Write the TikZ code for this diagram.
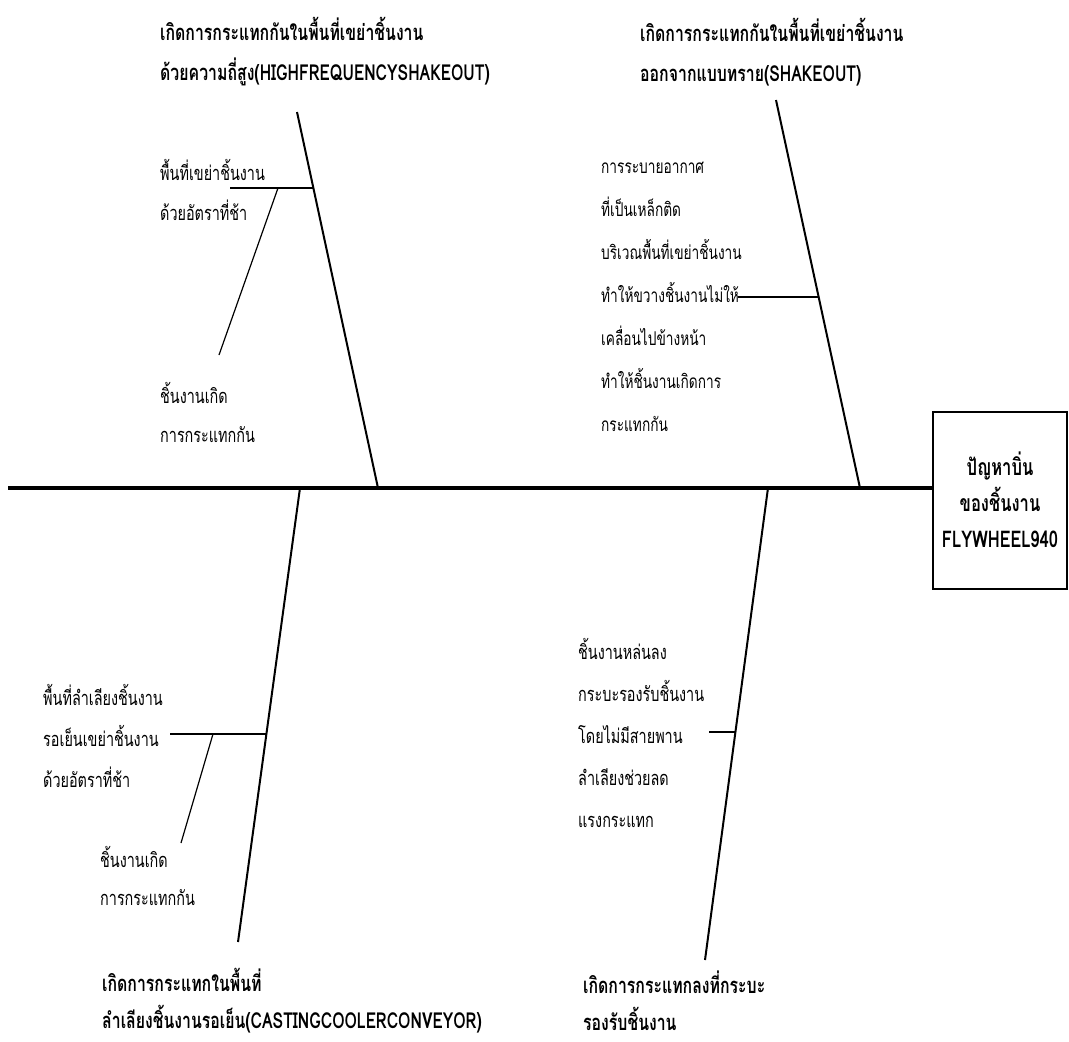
\documentclass[tikz,border=0pt]{standalone}
\usepackage{fontspec}
\newfontfamily\thai[Script=Thai,FakeStretch=0.72]{Loma}
\begin{document}
\begin{tikzpicture}[x=1pt,y=-1pt,
  spine/.style={line width=4pt},
  bone/.style={line width=2pt},
  twig/.style={line width=1.2pt},
  lbl/.style={anchor=west, align=left, inner sep=0pt,
    font=\thai\fontsize{20}{42}\selectfont},
  head/.style={anchor=west, align=left, inner sep=0pt,
    font=\thai\bfseries\fontsize{22}{40}\selectfont}]
\useasboundingbox (0,0) rectangle (1069,1042);

% effect box and main spine
\node[draw, line width=2pt, minimum width=134pt, minimum height=177pt,
  align=center, inner sep=0pt,
  font=\thai\bfseries\fontsize{23}{36}\selectfont] (effect) at (1000,500)
  {ปัญหาบิ่น\\ของชิ้นงาน\\FLYWHEEL940};
\coordinate (tail) at (8,488);
\draw[spine] (tail) -- (tail -| effect.west);

% bone end points
\coordinate (tlA) at (297,112); \coordinate (tlB) at (378,488);
\coordinate (trA) at (776,100); \coordinate (trB) at (860,488);
\coordinate (blA) at (300,488); \coordinate (blB) at (238,942);
\coordinate (brA) at (768,488); \coordinate (brB) at (705,960);
\draw[bone] (tlA) -- (tlB);
\draw[bone] (trA) -- (trB);
\draw[bone] (blA) -- (blB);
\draw[bone] (brA) -- (brB);

% category headings
\node[head] (hTL) at (160,52) {เกิดการกระแทกกันในพื้นที่เขย่าชิ้นงาน\\ด้วยความถี่สูง(HIGHFREQUENCYSHAKEOUT)};
\node[head] (hTR) at (640,52) {เกิดการกระแทกกันในพื้นที่เขย่าชิ้นงาน\\ออกจากแบบทราย(SHAKEOUT)};
\node[head, font=\thai\bfseries\fontsize{22}{37}\selectfont] (hBL) at (102,1001) {เกิดการกระแทกในพื้นที่\\ลำเลียงชิ้นงานรอเย็น(CASTINGCOOLERCONVEYOR)};
\node[head, font=\thai\bfseries\fontsize{22}{37}\selectfont] (hBR) at (583,1001) {เกิดการกระแทกลงที่กระบะ\\รองรับชิ้นงาน};

% top-left causes
\node[lbl, font=\thai\fontsize{20}{40}\selectfont] (cTL) at (160,190) {พื้นที่เขย่าชิ้นงาน\\ด้วยอัตราที่ช้า};
\node[lbl, font=\thai\fontsize{20}{39}\selectfont] (sTL) at (160,412) {ชิ้นงานเกิด\\การกระแทกกัน};
\coordinate (tlT1) at (230,188); \coordinate (tlT2) at (313,188);
\coordinate (tlS1) at (278,188); \coordinate (tlS2) at (219,355);
\draw[twig] (tlT1) -- (tlT2);
\draw[twig] (tlS1) -- (tlS2);

% top-right causes
\node[lbl, font=\thai\fontsize{19}{43}\selectfont] (cTR) at (601,297) {การระบายอากาศ\\ที่เป็นเหล็กติด\\บริเวณพื้นที่เขย่าชิ้นงาน\\ทำให้ขวางชิ้นงานไม่ให้\\เคลื่อนไปข้างหน้า\\ทำให้ชิ้นงานเกิดการ\\กระแทกกัน};
\coordinate (trT1) at (738,297); \coordinate (trT2) at (818,297);
\draw[twig] (trT1) -- (trT2);

% bottom-left causes
\node[lbl, font=\thai\fontsize{20}{41}\selectfont] (cBL) at (43,736) {พื้นที่ลำเลียงชิ้นงาน\\รอเย็นเขย่าชิ้นงาน\\ด้วยอัตราที่ช้า};
\node[lbl, font=\thai\fontsize{20}{38}\selectfont] (sBL) at (100,876) {ชิ้นงานเกิด\\การกระแทกกัน};
\coordinate (blT1) at (170,734); \coordinate (blT2) at (267,734);
\coordinate (blS1) at (213,734); \coordinate (blS2) at (181,843);
\draw[twig] (blT1) -- (blT2);
\draw[twig] (blS1) -- (blS2);

% bottom-right causes
\node[lbl, font=\thai\fontsize{20}{42}\selectfont] (cBR) at (578,733) {ชิ้นงานหล่นลง\\กระบะรองรับชิ้นงาน\\โดยไม่มีสายพาน\\ลำเลียงช่วยลด\\แรงกระแทก};
\coordinate (brT1) at (709,732); \coordinate (brT2) at (736,732);
\draw[twig] (brT1) -- (brT2);
\end{tikzpicture}
\end{document}
